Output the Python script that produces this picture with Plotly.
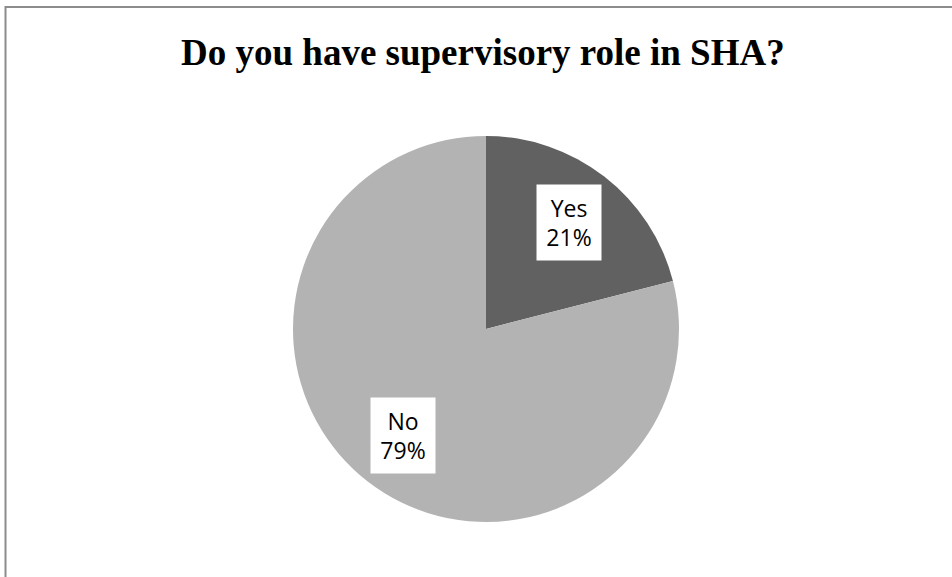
import math
import plotly.graph_objects as go

title_text = "Do you have supervisory role in SHA?"
labels = ["Yes", "No"]
values = [21, 79]
colors = ["#616161", "#b3b3b3"]

W, H = 952, 577
cx, cy, r = 486, 329, 193

fig = go.Figure()
fig.add_trace(go.Pie(
    labels=labels, values=values, sort=False, direction="clockwise", rotation=0,
    marker=dict(colors=colors, line=dict(width=0)),
    textinfo="none", hoverinfo="label+percent", showlegend=False,
    domain=dict(x=[(cx - r) / W, (cx + r) / W], y=[1 - (cy + r) / H, 1 - (cy - r) / H]),
))

# label boxes placed along each slice's mid-angle
total = sum(values)
annotations = []
start = 0.0
for lab, v in zip(labels, values):
    frac = v / total
    mid = (start + frac / 2) * 2 * math.pi
    start += frac
    px = cx + 0.70 * r * math.sin(mid)
    py = cy - 0.70 * r * math.cos(mid)
    annotations.append(dict(
        x=px / W, y=1 - py / H, xref="paper", yref="paper",
        text=f"{lab}<br>{round(frac * 100)}%", showarrow=False,
        font=dict(family="Open Sans", size=23, color="#000000"),
        bgcolor="#ffffff", width=62, height=73, borderpad=1, align="center",
        xanchor="center", yanchor="middle",
    ))

annotations.append(dict(
    x=483 / W, y=1 - 52 / H, xref="paper", yref="paper", showarrow=False,
    text=f"<b>{title_text}</b>",
    font=dict(family="Liberation Serif", size=37, color="#000000"),
    xanchor="center", yanchor="middle",
))

fig.update_layout(
    width=W, height=H, margin=dict(l=0, r=0, t=0, b=0),
    paper_bgcolor="#ffffff", plot_bgcolor="#ffffff",
    annotations=annotations,
    shapes=[dict(type="rect", xref="paper", yref="paper",
                 x0=5.5 / W, x1=1.05, y0=-0.05, y1=1 - 7 / H,
                 line=dict(color="#8c8c8c", width=2))],
)
fig.write_html("out.html")
